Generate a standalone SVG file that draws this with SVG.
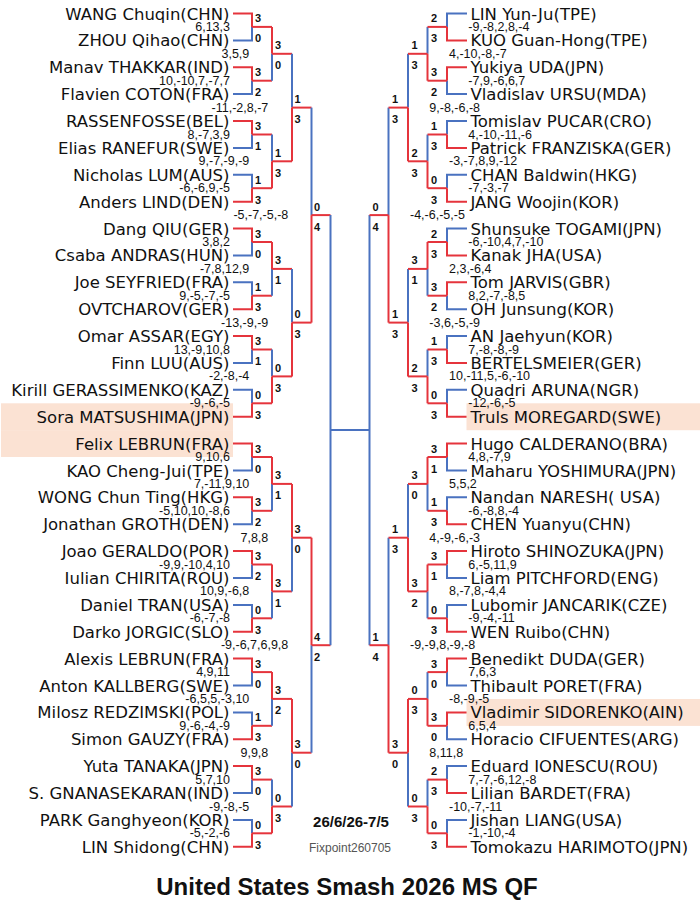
<svg xmlns="http://www.w3.org/2000/svg" width="700" height="915" viewBox="0 0 700 915">
<style>
.nm{font-family:"DejaVu Sans","Noto Sans",sans-serif;font-size:16.5px;fill:#111}
.nl{text-anchor:end}
.gs{font-family:"Liberation Sans",Arial,sans-serif;font-size:12.5px;fill:#111}
.gl{text-anchor:end}
.rs{font-family:"Liberation Sans",Arial,sans-serif;font-size:11px;font-weight:bold;fill:#111;text-anchor:middle}
.w{stroke:#e5343c;stroke-width:2;fill:none}
.l{stroke:#4a72c0;stroke-width:2;fill:none}
.hl{fill:#fbe2d3}
</style>
<rect width="700" height="915" fill="#fff"/>

<g id="connectors">
<!-- left R64 -->
<path class="w" d="M233 13.5H252V26.9"/><path class="l" d="M233 40.4H252V26.9"/><path class="w" d="M252 26.9H272"/>
<path class="w" d="M233 67.3H252V80.7"/><path class="l" d="M233 94.1H252V80.7"/><path class="w" d="M252 80.7H272"/>
<path class="w" d="M233 121H252V134.5"/><path class="l" d="M233 147.9H252V134.5"/><path class="w" d="M252 134.5H272"/>
<path class="l" d="M233 174.8H252V188.2"/><path class="w" d="M233 201.7H252V188.2"/><path class="w" d="M252 188.2H272"/>
<path class="w" d="M233 228.5H252V242"/><path class="l" d="M233 255.4H252V242"/><path class="w" d="M252 242H272"/>
<path class="l" d="M233 282.3H252V295.7"/><path class="w" d="M233 309.2H252V295.7"/><path class="w" d="M252 295.7H272"/>
<path class="w" d="M233 336.1H252V349.5"/><path class="l" d="M233 362.9H252V349.5"/><path class="w" d="M252 349.5H272"/>
<path class="l" d="M233 389.8H252V403.3"/><path class="w" d="M233 416.7H252V403.3"/><path class="w" d="M252 403.3H272"/>
<path class="w" d="M233 443.6H252V457"/><path class="l" d="M233 470.5H252V457"/><path class="w" d="M252 457H272"/>
<path class="w" d="M233 497.3H252V510.8"/><path class="l" d="M233 524.2H252V510.8"/><path class="w" d="M252 510.8H272"/>
<path class="w" d="M233 551.1H252V564.5"/><path class="l" d="M233 578H252V564.5"/><path class="w" d="M252 564.5H272"/>
<path class="l" d="M233 604.9H252V618.3"/><path class="w" d="M233 631.7H252V618.3"/><path class="w" d="M252 618.3H272"/>
<path class="w" d="M233 658.6H252V672.1"/><path class="l" d="M233 685.5H252V672.1"/><path class="w" d="M252 672.1H272"/>
<path class="l" d="M233 712.4H252V725.8"/><path class="w" d="M233 739.3H252V725.8"/><path class="w" d="M252 725.8H272"/>
<path class="w" d="M233 766.1H252V779.6"/><path class="l" d="M233 793H252V779.6"/><path class="w" d="M252 779.6H272"/>
<path class="l" d="M233 819.9H252V833.3"/><path class="w" d="M233 846.8H252V833.3"/><path class="w" d="M252 833.3H272"/>
<!-- left R32 -->
<path class="w" d="M272 26.9V53.8"/><path class="l" d="M272 80.7V53.8"/><path class="w" d="M272 53.8H292"/>
<path class="l" d="M272 134.5V161.3"/><path class="w" d="M272 188.2V161.3"/><path class="w" d="M272 161.3H292"/>
<path class="w" d="M272 242V268.9"/><path class="l" d="M272 295.7V268.9"/><path class="w" d="M272 268.9H292"/>
<path class="l" d="M272 349.5V376.4"/><path class="w" d="M272 403.3V376.4"/><path class="w" d="M272 376.4H292"/>
<path class="w" d="M272 457V483.9"/><path class="l" d="M272 510.8V483.9"/><path class="w" d="M272 483.9H292"/>
<path class="w" d="M272 564.5V591.4"/><path class="l" d="M272 618.3V591.4"/><path class="w" d="M272 591.4H292"/>
<path class="w" d="M272 672.1V698.9"/><path class="l" d="M272 725.8V698.9"/><path class="w" d="M272 698.9H292"/>
<path class="l" d="M272 779.6V806.5"/><path class="w" d="M272 833.3V806.5"/><path class="w" d="M272 806.5H292"/>
<!-- left R16 -->
<path class="l" d="M292 53.8V107.6"/><path class="w" d="M292 161.3V107.6"/><path class="w" d="M292 107.6H311.5"/>
<path class="l" d="M292 268.9V322.6"/><path class="w" d="M292 376.4V322.6"/><path class="w" d="M292 322.6H311.5"/>
<path class="w" d="M292 483.9V537.7"/><path class="l" d="M292 591.4V537.7"/><path class="w" d="M292 537.7H311.5"/>
<path class="w" d="M292 698.9V752.7"/><path class="l" d="M292 806.5V752.7"/><path class="w" d="M292 752.7H311.5"/>
<!-- left QF -->
<path class="l" d="M311.5 107.6V215.1"/><path class="w" d="M311.5 322.6V215.1"/><path class="w" d="M311.5 215.1H330.5"/>
<path class="w" d="M311.5 537.7V645.2"/><path class="l" d="M311.5 752.7V645.2"/><path class="w" d="M311.5 645.2H330.5"/>
<!-- SF -->
<path class="l" d="M330.5 215.1V645.2"/>
<path class="l" d="M330.5 430.1H369.5"/>
<path class="l" d="M369.5 215.1V645.2"/>
<!-- right QF -->
<path class="l" d="M388.5 107.6V215.1"/><path class="w" d="M388.5 322.6V215.1"/><path class="w" d="M388.5 215.1H369.5"/>
<path class="l" d="M388.5 537.7V645.2"/><path class="w" d="M388.5 752.7V645.2"/><path class="w" d="M388.5 645.2H369.5"/>
<!-- right R16 -->
<path class="l" d="M408 53.8V107.6"/><path class="w" d="M408 161.3V107.6"/><path class="w" d="M408 107.6H388.5"/>
<path class="l" d="M408 268.9V322.6"/><path class="w" d="M408 376.4V322.6"/><path class="w" d="M408 322.6H388.5"/>
<path class="l" d="M408 483.9V537.7"/><path class="w" d="M408 591.4V537.7"/><path class="w" d="M408 537.7H388.5"/>
<path class="w" d="M408 698.9V752.7"/><path class="l" d="M408 806.5V752.7"/><path class="w" d="M408 752.7H388.5"/>
<!-- right R32 -->
<path class="l" d="M427.5 26.9V53.8"/><path class="w" d="M427.5 80.7V53.8"/><path class="w" d="M427.5 53.8H408"/>
<path class="l" d="M427.5 134.5V161.3"/><path class="w" d="M427.5 188.2V161.3"/><path class="w" d="M427.5 161.3H408"/>
<path class="w" d="M427.5 242V268.9"/><path class="l" d="M427.5 295.7V268.9"/><path class="w" d="M427.5 268.9H408"/>
<path class="l" d="M427.5 349.5V376.4"/><path class="w" d="M427.5 403.3V376.4"/><path class="w" d="M427.5 376.4H408"/>
<path class="w" d="M427.5 457V483.9"/><path class="l" d="M427.5 510.8V483.9"/><path class="w" d="M427.5 483.9H408"/>
<path class="w" d="M427.5 564.5V591.4"/><path class="l" d="M427.5 618.3V591.4"/><path class="w" d="M427.5 591.4H408"/>
<path class="l" d="M427.5 672.1V698.9"/><path class="w" d="M427.5 725.8V698.9"/><path class="w" d="M427.5 698.9H408"/>
<path class="l" d="M427.5 779.6V806.5"/><path class="w" d="M427.5 833.3V806.5"/><path class="w" d="M427.5 806.5H408"/>
<!-- right R64 -->
<path class="l" d="M467 13.5H447V26.9"/><path class="w" d="M467 40.4H447V26.9"/><path class="w" d="M447 26.9H427.5"/>
<path class="w" d="M467 67.3H447V80.7"/><path class="l" d="M467 94.1H447V80.7"/><path class="w" d="M447 80.7H427.5"/>
<path class="l" d="M467 121H447V134.5"/><path class="w" d="M467 147.9H447V134.5"/><path class="w" d="M447 134.5H427.5"/>
<path class="l" d="M467 174.8H447V188.2"/><path class="w" d="M467 201.7H447V188.2"/><path class="w" d="M447 188.2H427.5"/>
<path class="l" d="M467 228.5H447V242"/><path class="w" d="M467 255.4H447V242"/><path class="w" d="M447 242H427.5"/>
<path class="w" d="M467 282.3H447V295.7"/><path class="l" d="M467 309.2H447V295.7"/><path class="w" d="M447 295.7H427.5"/>
<path class="l" d="M467 336.1H447V349.5"/><path class="w" d="M467 362.9H447V349.5"/><path class="w" d="M447 349.5H427.5"/>
<path class="l" d="M467 389.8H447V403.3"/><path class="w" d="M467 416.7H447V403.3"/><path class="w" d="M447 403.3H427.5"/>
<path class="w" d="M467 443.6H447V457"/><path class="l" d="M467 470.5H447V457"/><path class="w" d="M447 457H427.5"/>
<path class="l" d="M467 497.3H447V510.8"/><path class="w" d="M467 524.2H447V510.8"/><path class="w" d="M447 510.8H427.5"/>
<path class="w" d="M467 551.1H447V564.5"/><path class="l" d="M467 578H447V564.5"/><path class="w" d="M447 564.5H427.5"/>
<path class="l" d="M467 604.9H447V618.3"/><path class="w" d="M467 631.7H447V618.3"/><path class="w" d="M447 618.3H427.5"/>
<path class="w" d="M467 658.6H447V672.1"/><path class="l" d="M467 685.5H447V672.1"/><path class="w" d="M447 672.1H427.5"/>
<path class="w" d="M467 712.4H447V725.8"/><path class="l" d="M467 739.3H447V725.8"/><path class="w" d="M447 725.8H427.5"/>
<path class="l" d="M467 766.1H447V779.6"/><path class="w" d="M467 793H447V779.6"/><path class="w" d="M447 779.6H427.5"/>
<path class="l" d="M467 819.9H447V833.3"/><path class="w" d="M467 846.8H447V833.3"/><path class="w" d="M447 833.3H427.5"/>
</g>

<g id="left-players" class="nm nl">
<g id="L00"><text x="229.5" y="19.5">WANG Chuqin(CHN)</text></g>
<g id="L01"><text x="229.5" y="46.4">ZHOU Qihao(CHN)</text></g>
<g id="L02"><text x="229.5" y="73.3">Manav THAKKAR(IND)</text></g>
<g id="L03"><text x="229.5" y="100.1">Flavien COTON(FRA)</text></g>
<g id="L04"><text x="229.5" y="127">RASSENFOSSE(BEL)</text></g>
<g id="L05"><text x="229.5" y="153.9">Elias RANEFUR(SWE)</text></g>
<g id="L06"><text x="229.5" y="180.8">Nicholas LUM(AUS)</text></g>
<g id="L07"><text x="229.5" y="207.7">Anders LIND(DEN)</text></g>
<g id="L08"><text x="229.5" y="234.5">Dang QIU(GER)</text></g>
<g id="L09"><text x="229.5" y="261.4">Csaba ANDRAS(HUN)</text></g>
<g id="L10"><text x="229.5" y="288.3">Joe SEYFRIED(FRA)</text></g>
<g id="L11"><text x="229.5" y="315.2">OVTCHAROV(GER)</text></g>
<g id="L12"><text x="229.5" y="342.1">Omar ASSAR(EGY)</text></g>
<g id="L13"><text x="229.5" y="368.9">Finn LUU(AUS)</text></g>
<g id="L14"><text x="229.5" y="395.8">Kirill GERASSIMENKO(KAZ)</text></g>
<g id="L15"><rect class="hl" x="1" y="403.3" width="232" height="26.9"/><text x="229.5" y="422.7">Sora MATSUSHIMA(JPN)</text></g>
<g id="L16"><rect class="hl" x="1" y="430.1" width="232" height="26.9"/><text x="229.5" y="449.6">Felix LEBRUN(FRA)</text></g>
<g id="L17"><text x="229.5" y="476.5">KAO Cheng-Jui(TPE)</text></g>
<g id="L18"><text x="229.5" y="503.3">WONG Chun Ting(HKG)</text></g>
<g id="L19"><text x="229.5" y="530.2">Jonathan GROTH(DEN)</text></g>
<g id="L20"><text x="229.5" y="557.1">Joao GERALDO(POR)</text></g>
<g id="L21"><text x="229.5" y="584">Iulian CHIRITA(ROU)</text></g>
<g id="L22"><text x="229.5" y="610.9">Daniel TRAN(USA)</text></g>
<g id="L23"><text x="229.5" y="637.7">Darko JORGIC(SLO)</text></g>
<g id="L24"><text x="229.5" y="664.6">Alexis LEBRUN(FRA)</text></g>
<g id="L25"><text x="229.5" y="691.5">Anton KALLBERG(SWE)</text></g>
<g id="L26"><text x="229.5" y="718.4">Milosz REDZIMSKI(POL)</text></g>
<g id="L27"><text x="229.5" y="745.3">Simon GAUZY(FRA)</text></g>
<g id="L28"><text x="229.5" y="772.1">Yuta TANAKA(JPN)</text></g>
<g id="L29"><text x="229.5" y="799">S. GNANASEKARAN(IND)</text></g>
<g id="L30"><text x="229.5" y="825.9">PARK Ganghyeon(KOR)</text></g>
<g id="L31"><text x="229.5" y="852.8">LIN Shidong(CHN)</text></g>
</g>

<g id="right-players" class="nm">
<g id="R00"><text x="470.5" y="19.5">LIN Yun-Ju(TPE)</text></g>
<g id="R01"><text x="470.5" y="46.4">KUO Guan-Hong(TPE)</text></g>
<g id="R02"><text x="470.5" y="73.3">Yukiya UDA(JPN)</text></g>
<g id="R03"><text x="470.5" y="100.1">Vladislav URSU(MDA)</text></g>
<g id="R04"><text x="470.5" y="127">Tomislav PUCAR(CRO)</text></g>
<g id="R05"><text x="470.5" y="153.9">Patrick FRANZISKA(GER)</text></g>
<g id="R06"><text x="470.5" y="180.8">CHAN Baldwin(HKG)</text></g>
<g id="R07"><text x="470.5" y="207.7">JANG Woojin(KOR)</text></g>
<g id="R08"><text x="470.5" y="234.5">Shunsuke TOGAMI(JPN)</text></g>
<g id="R09"><text x="470.5" y="261.4">Kanak JHA(USA)</text></g>
<g id="R10"><text x="470.5" y="288.3">Tom JARVIS(GBR)</text></g>
<g id="R11"><text x="470.5" y="315.2">OH Junsung(KOR)</text></g>
<g id="R12"><text x="470.5" y="342.1">AN Jaehyun(KOR)</text></g>
<g id="R13"><text x="470.5" y="368.9">BERTELSMEIER(GER)</text></g>
<g id="R14"><text x="470.5" y="395.8">Quadri ARUNA(NGR)</text></g>
<g id="R15"><rect class="hl" x="466.5" y="403.3" width="233.5" height="26.9"/><text x="470.5" y="422.7">Truls MOREGARD(SWE)</text></g>
<g id="R16"><text x="470.5" y="449.6">Hugo CALDERANO(BRA)</text></g>
<g id="R17"><text x="470.5" y="476.5">Maharu YOSHIMURA(JPN)</text></g>
<g id="R18"><text x="470.5" y="503.3">Nandan NARESH( USA)</text></g>
<g id="R19"><text x="470.5" y="530.2">CHEN Yuanyu(CHN)</text></g>
<g id="R20"><text x="470.5" y="557.1">Hiroto SHINOZUKA(JPN)</text></g>
<g id="R21"><text x="470.5" y="584">Liam PITCHFORD(ENG)</text></g>
<g id="R22"><text x="470.5" y="610.9">Lubomir JANCARIK(CZE)</text></g>
<g id="R23"><text x="470.5" y="637.7">WEN Ruibo(CHN)</text></g>
<g id="R24"><text x="470.5" y="664.6">Benedikt DUDA(GER)</text></g>
<g id="R25"><text x="470.5" y="691.5">Thibault PORET(FRA)</text></g>
<g id="R26"><rect class="hl" x="466.5" y="699" width="233.5" height="26.9"/><text x="470.5" y="718.4">Vladimir SIDORENKO(AIN)</text></g>
<g id="R27"><text x="470.5" y="745.3">Horacio CIFUENTES(ARG)</text></g>
<g id="R28"><text x="470.5" y="772.1">Eduard IONESCU(ROU)</text></g>
<g id="R29"><text x="470.5" y="799">Lilian BARDET(FRA)</text></g>
<g id="R30"><text x="470.5" y="825.9">Jishan LIANG(USA)</text></g>
<g id="R31"><text x="470.5" y="852.8">Tomokazu HARIMOTO(JPN)</text></g>
</g>

<g id="game-scores-left" class="gs gl">
<text x="230" y="30.9">6,13,3</text>
<text x="230" y="84.7">10,-10,7,-7,7</text>
<text x="230" y="138.5">8,-7,3,9</text>
<text x="230" y="192.2">-6,-6,9,-5</text>
<text x="230" y="246">3,8,2</text>
<text x="230" y="299.7">9,-5,-7,-5</text>
<text x="230" y="353.5">13,-9,10,8</text>
<text x="230" y="407.3">-9,-6,-5</text>
<text x="230" y="461">9,10,6</text>
<text x="230" y="514.8">-5,10,10,-8,6</text>
<text x="230" y="568.5">-9,9,-10,4,10</text>
<text x="230" y="622.3">-6,-7,-8</text>
<text x="230" y="676.1">4,9,11</text>
<text x="230" y="729.8">9,-6,-4,-9</text>
<text x="230" y="783.6">5,7,10</text>
<text x="230" y="837.3">-5,-2,-6</text>
<text x="249.3" y="57.8">3,5,9</text>
<text x="249.3" y="165.3">9,-7,-9,-9</text>
<text x="249.3" y="272.9">-7,8,12,9</text>
<text x="249.3" y="380.4">-2,-8,-4</text>
<text x="249.3" y="487.9">7,-11,9,10</text>
<text x="249.3" y="595.4">10,9,-6,8</text>
<text x="249.3" y="702.9">-6,5,5,-3,10</text>
<text x="249.3" y="810.5">-9,-8,-5</text>
<text x="268.3" y="111.6">-11,-2,8,-7</text>
<text x="268.3" y="326.6">-13,-9,-9</text>
<text x="268.3" y="541.7">7,8,8</text>
<text x="268.3" y="756.7">9,9,8</text>
<text x="288.3" y="219.1">-5,-7,-5,-8</text>
<text x="288.3" y="649.2">-9,-6,7,6,9,8</text>
</g>

<g id="game-scores-right" class="gs">
<text x="468.3" y="30.9">-9,-8,2,8,-4</text>
<text x="468.3" y="84.7">-7,9,-6,6,7</text>
<text x="468.3" y="138.5">4,-10,-11,-6</text>
<text x="468.3" y="192.2">-7,-3,-7</text>
<text x="468.3" y="246">-6,-10,4,7,-10</text>
<text x="468.3" y="299.7">8,2,-7,-8,5</text>
<text x="468.3" y="353.5">7,-8,-8,-9</text>
<text x="468.3" y="407.3">-12,-6,-5</text>
<text x="468.3" y="461">4,8,-7,9</text>
<text x="468.3" y="514.8">-6,-8,8,-4</text>
<text x="468.3" y="568.5">6,-5,11,9</text>
<text x="468.3" y="622.3">-9,-4,-11</text>
<text x="468.3" y="676.1">7,6,3</text>
<text x="468.3" y="729.8">6,5,4</text>
<text x="468.3" y="783.6">7,-7,-6,12,-8</text>
<text x="468.3" y="837.3">-1,-10,-4</text>
<text x="449" y="57.8">4,-10,-8,-7</text>
<text x="449" y="165.3">-3,-7,8,9,-12</text>
<text x="449" y="272.9">2,3,-6,4</text>
<text x="449" y="380.4">10,-11,5,-6,-10</text>
<text x="449" y="487.9">5,5,2</text>
<text x="449" y="595.4">8,-7,8,-4,4</text>
<text x="449" y="702.9">-8,-9,-5</text>
<text x="449" y="810.5">-10,-7,-11</text>
<text x="429.3" y="111.6">9,-8,-6,-8</text>
<text x="429.3" y="326.6">-3,6,-5,-9</text>
<text x="429.3" y="541.7">4,-9,-6,-3</text>
<text x="429.3" y="756.7">8,11,8</text>
<text x="410" y="219.1">-4,-6,-5,-5</text>
<text x="410" y="649.2">-9,-9,8,-9,-8</text>
</g>

<g id="match-scores-left" class="rs">
<text x="258" y="22.4">3</text><text x="258" y="42.4">0</text>
<text x="258" y="76.2">3</text><text x="258" y="96.2">2</text>
<text x="258" y="130">3</text><text x="258" y="150">1</text>
<text x="258" y="183.7">1</text><text x="258" y="203.7">3</text>
<text x="258" y="237.5">3</text><text x="258" y="257.5">0</text>
<text x="258" y="291.2">1</text><text x="258" y="311.2">3</text>
<text x="258" y="345">3</text><text x="258" y="365">1</text>
<text x="258" y="398.8">0</text><text x="258" y="418.8">3</text>
<text x="258" y="452.5">3</text><text x="258" y="472.5">0</text>
<text x="258" y="506.3">3</text><text x="258" y="526.3">2</text>
<text x="258" y="560">3</text><text x="258" y="580">2</text>
<text x="258" y="613.8">0</text><text x="258" y="633.8">3</text>
<text x="258" y="667.6">3</text><text x="258" y="687.6">0</text>
<text x="258" y="721.3">1</text><text x="258" y="741.3">3</text>
<text x="258" y="775.1">3</text><text x="258" y="795.1">0</text>
<text x="258" y="828.8">0</text><text x="258" y="848.8">3</text>
<text x="278" y="49.3">3</text><text x="278" y="69.3">0</text>
<text x="278" y="156.8">1</text><text x="278" y="176.8">3</text>
<text x="278" y="264.4">3</text><text x="278" y="284.4">1</text>
<text x="278" y="371.9">0</text><text x="278" y="391.9">3</text>
<text x="278" y="479.4">3</text><text x="278" y="499.4">1</text>
<text x="278" y="586.9">3</text><text x="278" y="606.9">1</text>
<text x="278" y="694.4">3</text><text x="278" y="714.4">2</text>
<text x="278" y="802">0</text><text x="278" y="822">3</text>
<text x="297.5" y="103.1">1</text><text x="297.5" y="123.1">3</text>
<text x="297.5" y="318.1">0</text><text x="297.5" y="338.1">3</text>
<text x="297.5" y="533.2">3</text><text x="297.5" y="553.2">0</text>
<text x="297.5" y="748.2">3</text><text x="297.5" y="768.2">0</text>
<text x="317" y="210.6">0</text><text x="317" y="230.6">4</text>
<text x="317" y="640.7">4</text><text x="317" y="660.7">2</text>
</g>

<g id="match-scores-right" class="rs">
<text x="434" y="22.4">2</text><text x="434" y="42.4">3</text>
<text x="434" y="76.2">3</text><text x="434" y="96.2">2</text>
<text x="434" y="130">1</text><text x="434" y="150">3</text>
<text x="434" y="183.7">0</text><text x="434" y="203.7">3</text>
<text x="434" y="237.5">2</text><text x="434" y="257.5">3</text>
<text x="434" y="291.2">3</text><text x="434" y="311.2">2</text>
<text x="434" y="345">1</text><text x="434" y="365">3</text>
<text x="434" y="398.8">0</text><text x="434" y="418.8">3</text>
<text x="434" y="452.5">3</text><text x="434" y="472.5">1</text>
<text x="434" y="506.3">1</text><text x="434" y="526.3">3</text>
<text x="434" y="560">3</text><text x="434" y="580">1</text>
<text x="434" y="613.8">0</text><text x="434" y="633.8">3</text>
<text x="434" y="667.6">3</text><text x="434" y="687.6">0</text>
<text x="434" y="721.3">3</text><text x="434" y="741.3">0</text>
<text x="434" y="775.1">2</text><text x="434" y="795.1">3</text>
<text x="434" y="828.8">0</text><text x="434" y="848.8">3</text>
<text x="414.5" y="49.3">1</text><text x="414.5" y="69.3">3</text>
<text x="414.5" y="156.8">2</text><text x="414.5" y="176.8">3</text>
<text x="414.5" y="264.4">3</text><text x="414.5" y="284.4">1</text>
<text x="414.5" y="371.9">2</text><text x="414.5" y="391.9">3</text>
<text x="414.5" y="479.4">3</text><text x="414.5" y="499.4">0</text>
<text x="414.5" y="586.9">3</text><text x="414.5" y="606.9">2</text>
<text x="414.5" y="694.4">0</text><text x="414.5" y="714.4">3</text>
<text x="414.5" y="802">0</text><text x="414.5" y="822">3</text>
<text x="395" y="103.1">1</text><text x="395" y="123.1">3</text>
<text x="395" y="318.1">1</text><text x="395" y="338.1">3</text>
<text x="395" y="533.2">1</text><text x="395" y="553.2">3</text>
<text x="395" y="748.2">3</text><text x="395" y="768.2">0</text>
<text x="375.5" y="210.6">0</text><text x="375.5" y="230.6">4</text>
<text x="375.5" y="640.7">1</text><text x="375.5" y="660.7">4</text>
</g>

<g id="footer">
<text x="351" y="827" font-family="Liberation Sans, Arial, sans-serif" font-size="15" font-weight="bold" fill="#111" text-anchor="middle">26/6/26-7/5</text>
<text x="350" y="852" font-family="Liberation Sans, Arial, sans-serif" font-size="12" fill="#555" text-anchor="middle">Fixpoint260705</text>
<text x="347" y="895" font-family="Liberation Sans, Arial, sans-serif" font-size="24" font-weight="bold" fill="#111" text-anchor="middle">United States Smash 2026 MS QF</text>
</g>
</svg>
